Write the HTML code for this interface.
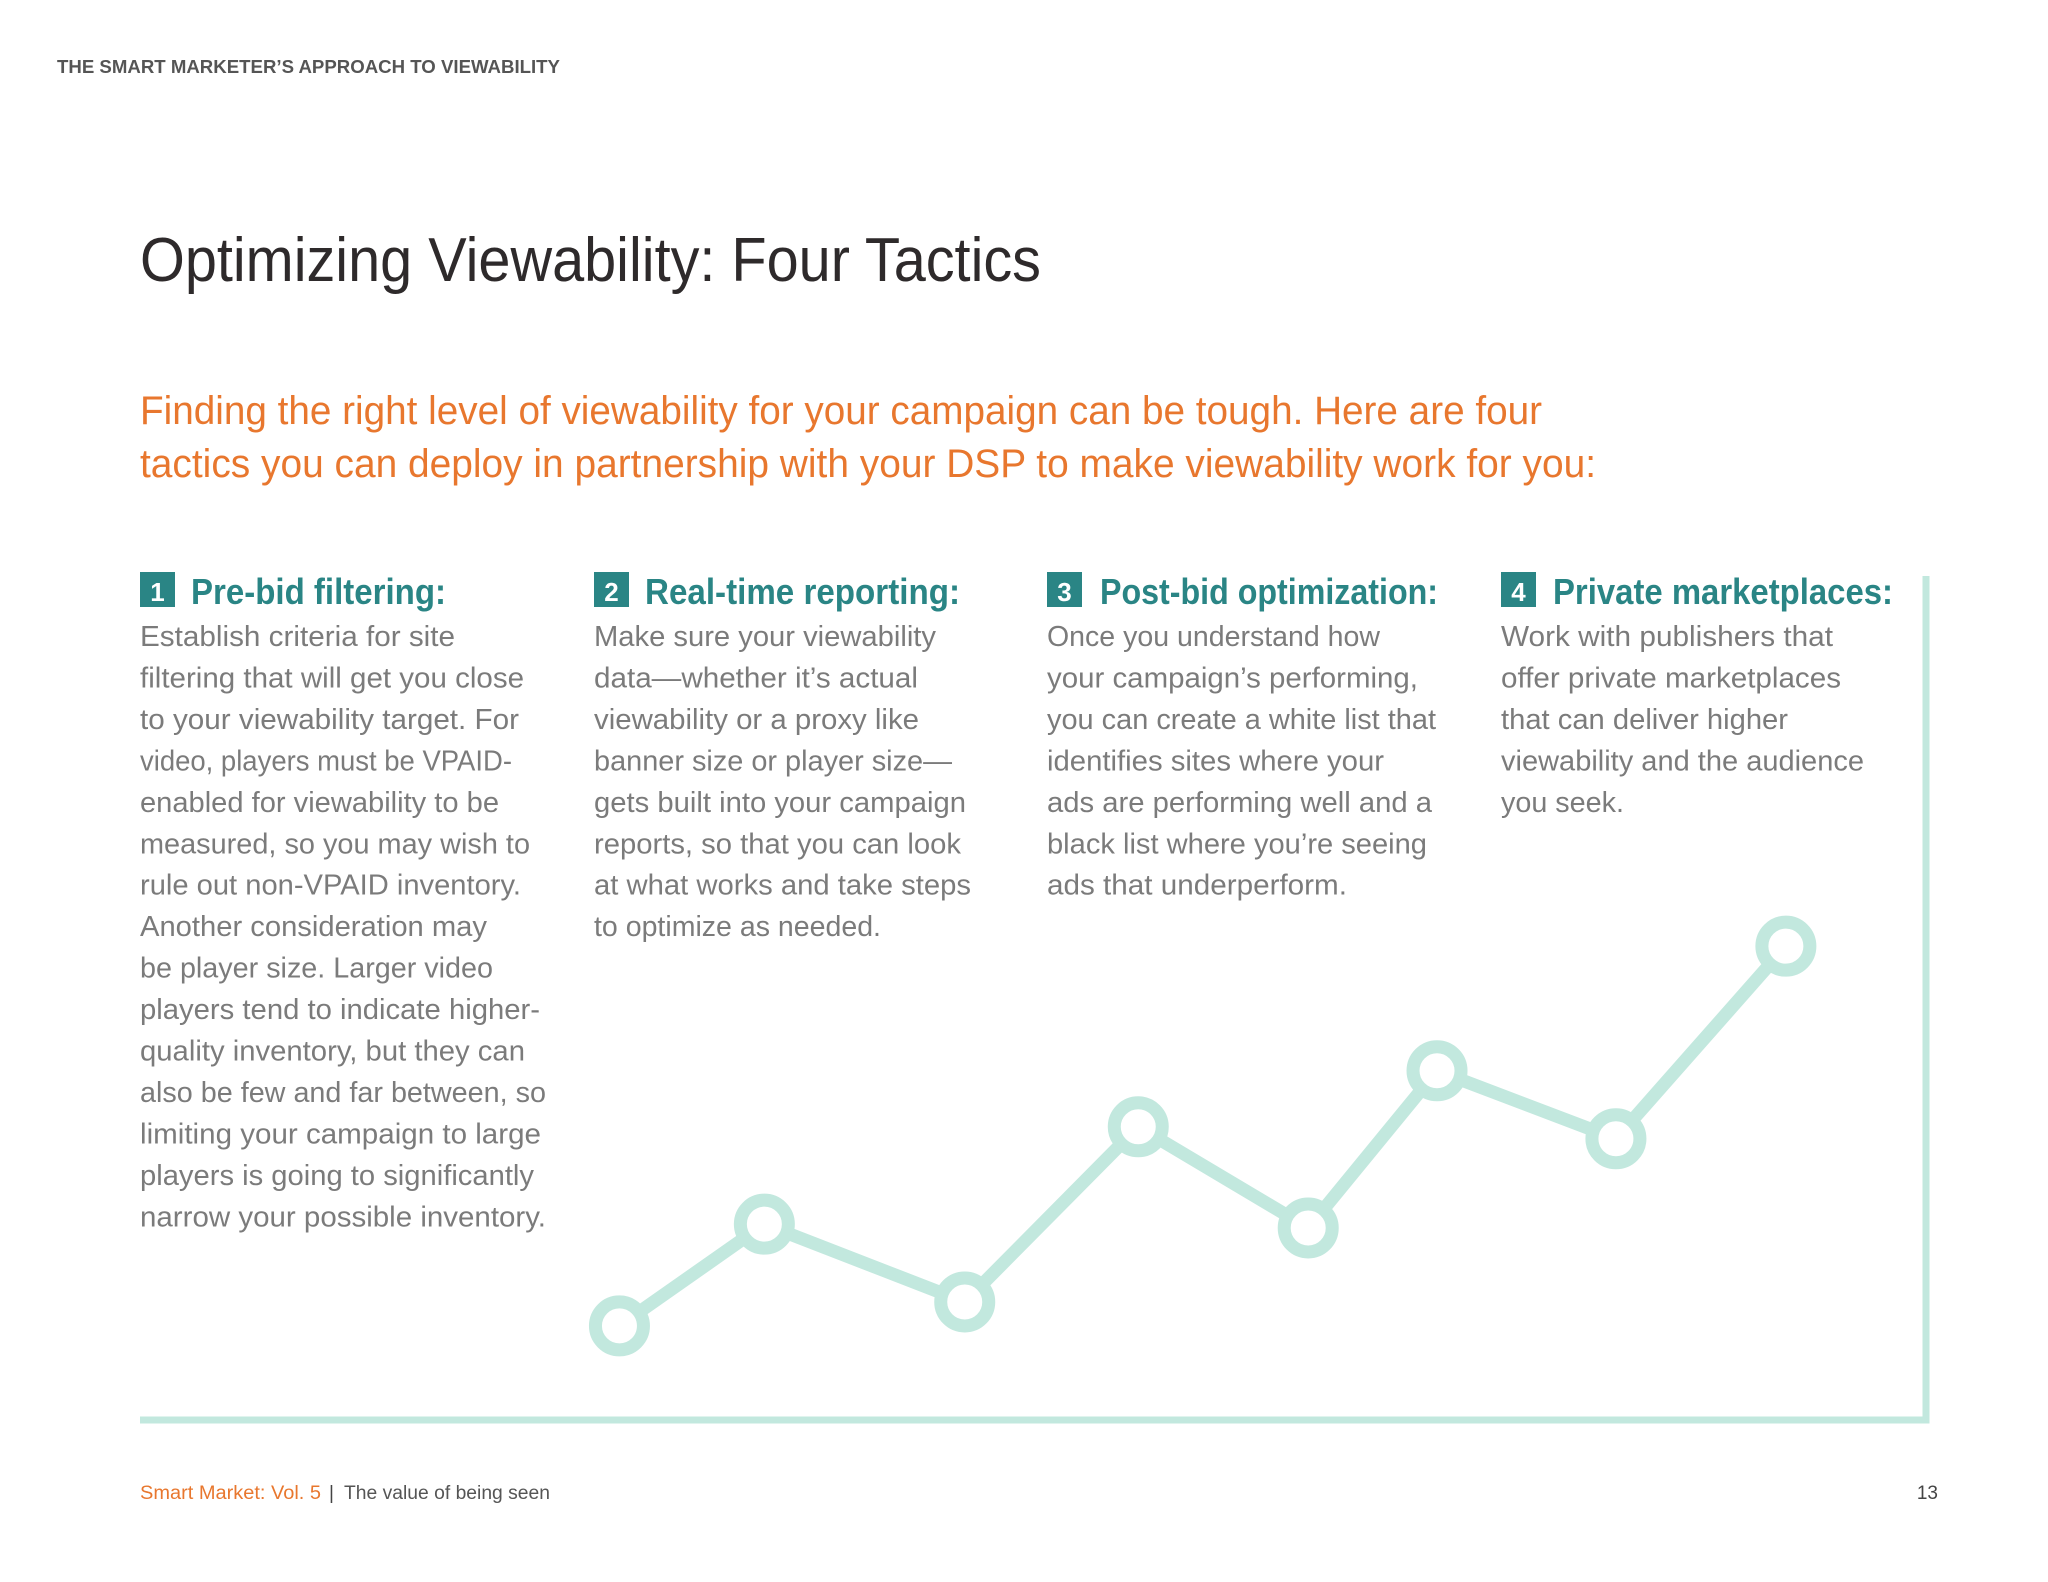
<!DOCTYPE html>
<html><head><meta charset="utf-8"><style>
html,body{margin:0;padding:0;background:#fff}
svg{display:block}
text{font-family:"Liberation Sans",sans-serif}
</style></head><body>
<svg id="page" width="2048" height="1582" viewBox="0 0 2048 1582" xmlns="http://www.w3.org/2000/svg">
<text x="57" y="73" font-size="18" font-weight="bold" fill="#555" textLength="503" lengthAdjust="spacingAndGlyphs">THE SMART MARKETER’S APPROACH TO VIEWABILITY</text>
<text x="140" y="281" font-size="62" fill="#2e2a2b" textLength="901" lengthAdjust="spacingAndGlyphs">Optimizing Viewability: Four Tactics</text>
<text x="140" y="424" font-size="40" fill="#e8772e" textLength="1402" lengthAdjust="spacingAndGlyphs">Finding the right level of viewability for your campaign can be tough. Here are four</text>
<text x="140" y="477" font-size="40" fill="#e8772e" textLength="1456" lengthAdjust="spacingAndGlyphs">tactics you can deploy in partnership with your DSP to make viewability work for you:</text>
<g id="cols"></g>
<g id="chart"></g>
<text x="140" y="1499" font-size="19" fill="#e8772e" textLength="181" lengthAdjust="spacingAndGlyphs">Smart Market: Vol. 5</text>
<text x="329" y="1499" font-size="19" fill="#444">|</text>
<text x="344" y="1499" font-size="19" fill="#555" textLength="206" lengthAdjust="spacingAndGlyphs">The value of being seen</text>
<text x="1938" y="1499" font-size="19" fill="#444" text-anchor="end">13</text>
</svg>
<script>
const NS="http://www.w3.org/2000/svg";
const S=1.306;
const cols=[
 {n:"1",title:"Pre-bid filtering:",bx:107,tx:146,te:341,lines:[["Establish criteria for site",348],["filtering that will get you close",401],["to your viewability target. For",397],["video, players must be VPAID-",392],["enabled for viewability to be",382],["measured, so you may wish to",406],["rule out non-VPAID inventory.",399],["Another consideration may",373],["be player size. Larger video",377],["players tend to indicate higher-",413],["quality inventory, but they can",402],["also be few and far between, so",418],["limiting your campaign to large",414],["players is going to significantly",409],["narrow your possible inventory.",418]]},
 {n:"2",title:"Real-time reporting:",bx:455,tx:494,te:735,lines:[["Make sure your viewability",717],["data—whether it’s actual",703],["viewability or a proxy like",704],["banner size or player size—",729],["gets built into your campaign",740],["reports, so that you can look",736],["at what works and take steps",744],["to optimize as needed.",675]]},
 {n:"3",title:"Post-bid optimization:",bx:802,tx:842,te:1101,lines:[["Once you understand how",1057],["your campaign’s performing,",1086],["you can create a white list that",1100],["identifies sites where your",1060],["ads are performing well and a",1097],["black list where you’re seeing",1093],["ads that underperform.",1032]]},
 {n:"4",title:"Private marketplaces:",bx:1149,tx:1189,te:1449,lines:[["Work with publishers that",1403],["offer private marketplaces",1409],["that can deliver higher",1369],["viewability and the audience",1427],["you seek.",1243]]}
];
const g=document.getElementById('cols');
function mk(tag,attrs,parent){const e=document.createElementNS(NS,tag);for(const k in attrs)e.setAttribute(k,attrs[k]);parent.appendChild(e);return e;}
cols.forEach((c,i)=>{
 const grp=mk('g',{},g);
 
 
 const bx=Math.round(c.bx*S);
 const box=mk('rect',{x:bx,y:572,width:35,height:35,fill:'#2a8585'},grp);
 
 
 const num=mk('text',{x:bx+17.5,y:601,'font-size':26,'font-weight':'bold',fill:'#fff','text-anchor':'middle'},grp);
 num.textContent=c.n;
 
 
 const h=mk('text',{x:Math.round(c.tx*S),y:604,'font-size':36,'font-weight':'bold',fill:'#2a8585',textLength:Math.round((c.te-c.tx)*S),lengthAdjust:'spacingAndGlyphs'},grp);
 h.textContent=c.title;
 
 
 c.lines.forEach((l,j)=>{
  const t=mk('text',{x:bx,y:646+j*41.45,'font-size':29,fill:'#7b7b7b',textLength:Math.round((l[1]-c.bx)*S),lengthAdjust:'spacingAndGlyphs'},grp);
  t.textContent=l[0];
  
  
 });
});

// chart data
const xValues=[26.8,34.9,46.1,55.8,65.3,72.5,82.5,92.0];
const yValues=[17.3,36.0,21.7,53.9,35.3,64.2,51.7,87.1];
const X0=140,X1=1929,Y0=1420,YS=5.44;
const xs=v=>X0+v*(X1-X0)/100;
const ys=v=>Y0-v*YS;
const ch=document.getElementById('chart');
const COL='#c2e8de';
const ax=mk('path',{d:`M${X0} ${Y0} H${X1-3} V576`,fill:'none',stroke:COL,'stroke-width':7},ch);


const pts=xValues.map((x,i)=>[xs(x),ys(yValues[i])]);
const ln=mk('polyline',{points:pts.map(p=>p.join(',')).join(' '),fill:'none',stroke:COL,'stroke-width':13,'stroke-linejoin':'round'},ch);


pts.forEach((p,i)=>{
 const c=mk('circle',{cx:p[0],cy:p[1],r:24,fill:'#fff',stroke:COL,'stroke-width':13},ch);
 
 
});
</script>
</body></html>
